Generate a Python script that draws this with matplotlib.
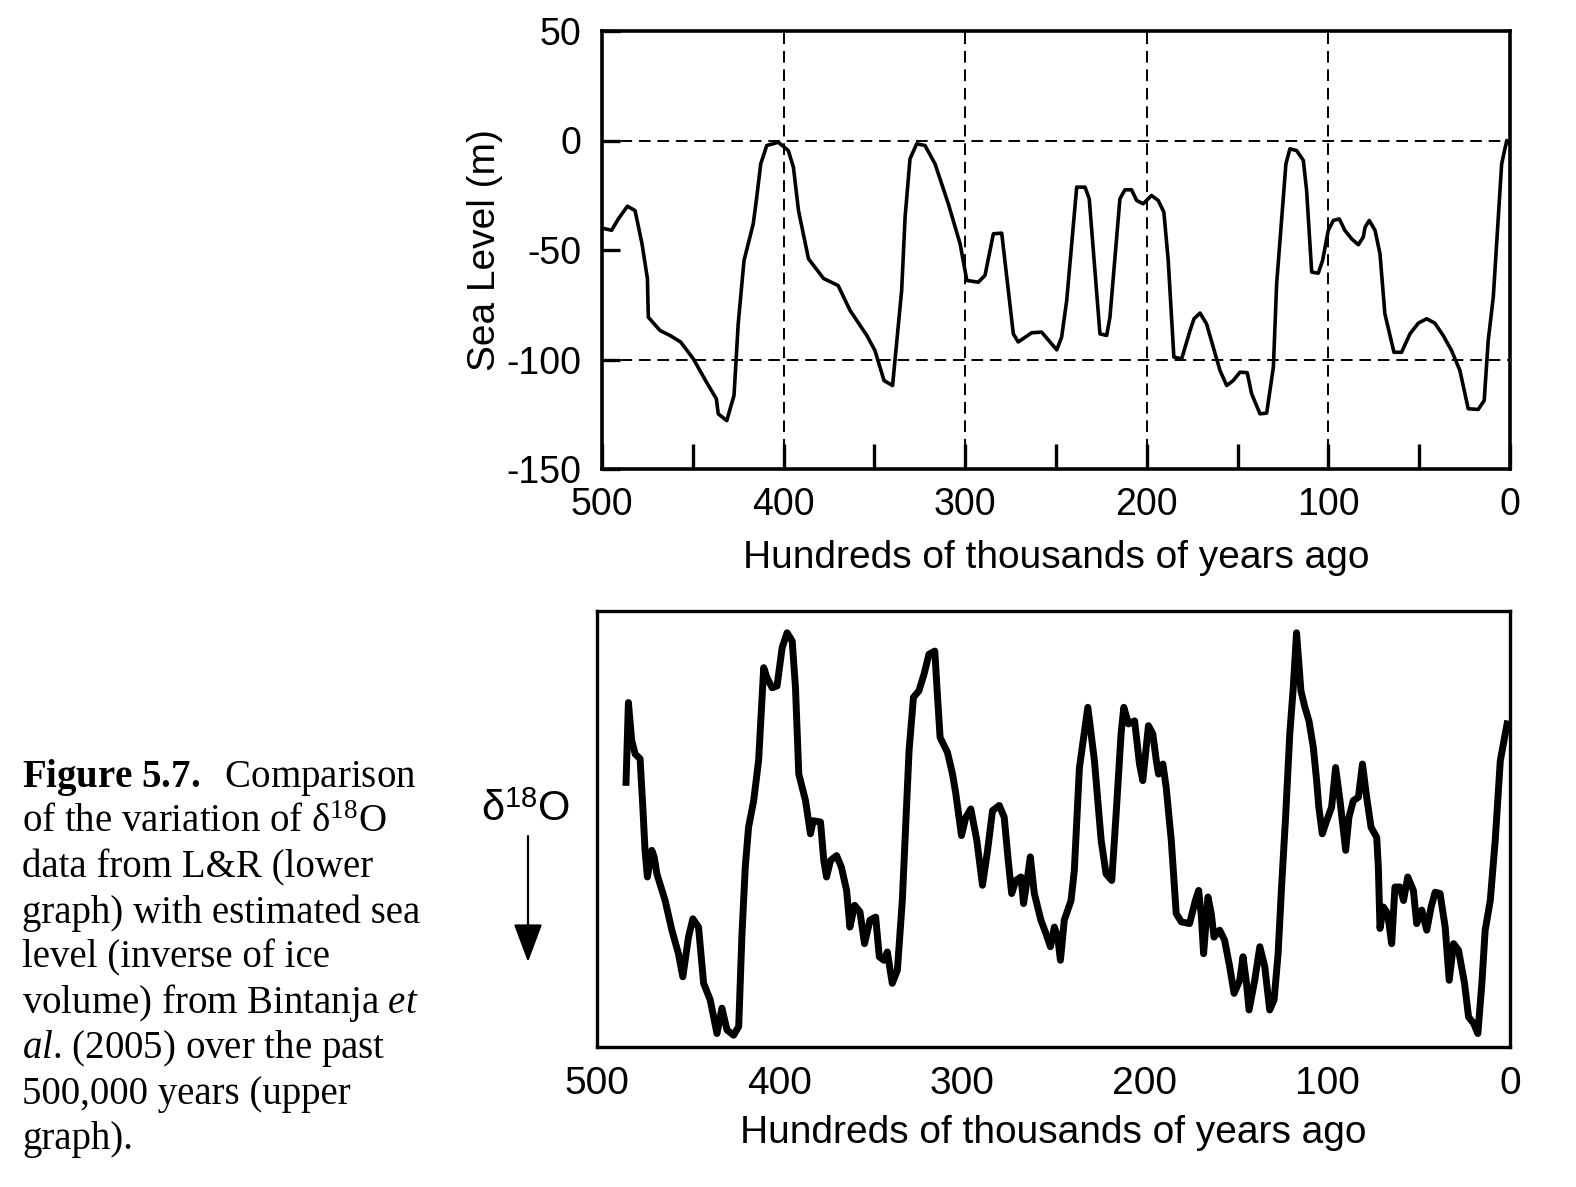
import numpy as np
import matplotlib.pyplot as plt

# Sea level (Bintanja et al. 2005)
sea_age = [500.0, 494.7, 491.0, 486.0, 481.8, 478.0, 475.0, 474.5, 468.0, 462.6,
           456.7, 449.7, 443.0, 437.0, 436.0, 431.3, 427.3, 425.0, 421.8, 416.7,
           414.8, 412.6, 409.3, 402.9, 397.4, 394.6, 391.8, 386.3, 378.0, 370.0,
           363.4, 354.2, 349.7, 344.7, 340.0, 335.0, 333.1, 330.4, 326.7, 322.1,
           316.6, 309.3, 302.8, 299.1, 292.8, 289.1, 284.5, 279.9, 273.5, 270.8,
           263.4, 257.9, 253.3, 249.6, 246.9, 244.1, 238.6, 234.0, 231.7, 225.8,
           222.1, 220.3, 214.8, 212.0, 208.4, 205.6, 202.0, 197.4, 193.7, 190.6,
           188.2, 185.1, 180.8, 176.2, 174.0, 170.7, 167.1, 163.4, 159.7, 156.0,
           152.4, 148.7, 144.7, 142.3, 137.7, 134.0, 130.3, 128.5, 125.8, 123.4,
           121.2, 117.5, 113.8, 112.0, 109.2, 105.6, 103.2, 100.1, 97.3, 94.0,
           90.9, 87.2, 83.5, 80.8, 79.8, 77.5, 74.3, 71.6, 68.9, 63.9,
           59.7, 55.1, 50.5, 45.9, 41.4, 36.8, 32.2, 27.6, 23.0, 17.5,
           14.2, 12.0, 9.2, 4.6, 1.8, 0.0]
sea_level = [-40.0, -41.0, -35.8, -30.0, -32.0, -47.0, -63.0, -80.7, -86.8, -89.0,
             -92.0, -99.7, -109.6, -118.0, -124.8, -127.9, -116.4, -83.7, -54.8, -38.0,
             -25.9, -10.7, -2.3, -0.8, -4.6, -12.2, -32.0, -54.0, -63.0, -66.2,
             -77.6, -89.0, -95.9, -109.6, -111.9, -68.5, -35.0, -8.4, -1.5, -2.3,
             -10.7, -28.9, -47.2, -63.9, -64.7, -61.6, -42.6, -42.3, -88.3, -92.0,
             -87.8, -87.5, -92.0, -95.6, -89.8, -73.0, -21.3, -21.3, -26.6, -88.3,
             -89.0, -80.7, -26.6, -22.5, -22.5, -27.4, -28.9, -25.1, -27.4, -32.7,
             -54.8, -98.9, -99.7, -86.8, -81.4, -78.8, -83.7, -94.4, -105.0, -111.9,
             -109.6, -105.8, -106.0, -115.6, -124.8, -124.5, -103.5, -65.4, -36.5, -10.7,
             -3.8, -4.6, -9.1, -22.8, -60.1, -60.6, -54.8, -41.1, -36.5, -35.8,
             -41.1, -44.9, -47.6, -44.1, -39.6, -36.5, -41.1, -51.7, -79.1, -96.7,
             -96.7, -88.3, -83.4, -81.4, -83.4, -89.0, -95.9, -105.0, -122.5, -122.8,
             -118.7, -91.3, -71.5, -10.7, 0.0, -2.0]

# d18O (L&R stack), relative units (0 = bottom of frame, 100 = top)
d18o_age = [484.1, 482.8, 481.0, 479.1, 476.4, 474.9, 473.7, 472.4, 470.0, 468.7,
            467.2, 462.7, 459.0, 455.4, 453.0, 449.9, 447.5, 444.4, 441.6, 438.0,
            434.3, 431.6, 428.8, 425.2, 422.4, 420.6, 418.8, 417.0, 414.2, 411.5,
            408.7, 406.9, 404.1, 401.4, 398.6, 395.9, 393.1, 391.3, 389.5, 385.8,
            383.1, 381.6, 377.6, 375.8, 374.3, 372.1, 368.8, 366.2, 363.3, 361.5,
            358.9, 356.0, 353.5, 350.5, 347.4, 345.4, 342.9, 341.0, 338.3, 335.5,
            332.8, 331.0, 329.1, 326.7, 323.7, 320.9, 318.2, 315.0, 313.6, 312.1,
            308.1, 305.3, 303.5, 300.4, 298.0, 295.3, 292.0, 288.9, 286.1, 283.4,
            279.7, 277.0, 274.8, 272.9, 270.6, 267.8, 266.4, 264.2, 262.7, 260.5,
            256.9, 254.1, 251.7, 249.5, 247.7, 246.2, 244.1, 240.4, 238.6, 235.8,
            231.2, 227.6, 223.9, 221.2, 218.1, 215.7, 213.0, 211.5, 208.9, 205.6,
            202.9, 201.1, 199.2, 198.0, 195.6, 193.7, 192.5, 190.1, 188.3, 185.5,
            182.8, 180.0, 175.5, 172.3, 170.5, 169.0, 167.8, 165.4, 163.6, 162.1,
            159.0, 156.3, 153.5, 151.1, 148.0, 146.2, 144.3, 142.9, 139.8, 137.0,
            134.3, 131.6, 129.2, 127.0, 125.1, 122.9, 120.6, 118.7, 116.9, 114.5,
            112.3, 110.1, 107.7, 105.9, 104.7, 102.8, 100.4, 97.7, 95.5, 93.1,
            90.0, 88.2, 85.8, 83.0, 80.8, 78.5, 76.1, 73.0, 72.1, 71.2,
            69.3, 67.0, 64.8, 63.0, 60.2, 58.3, 56.0, 52.9, 51.1, 48.3,
            45.6, 43.2, 41.0, 38.3, 35.5, 33.3, 30.9, 28.2, 24.9, 22.7,
            19.9, 17.6, 15.4, 13.6, 10.8, 8.1, 5.3, 1.6]
d18o_rel = [60.7, 79.0, 70.3, 67.2, 66.1, 55.0, 45.1, 39.0, 45.1, 43.6,
            39.7, 33.6, 26.8, 21.4, 16.1, 25.2, 29.4, 27.5, 14.6, 10.8,
            3.1, 8.9, 3.9, 2.7, 4.7, 26.0, 41.3, 50.4, 56.5, 65.7,
            87.0, 84.7, 82.4, 82.8, 91.6, 95.0, 93.1, 82.4, 62.6, 56.5,
            48.9, 51.9, 51.6, 42.8, 39.0, 42.8, 43.9, 41.3, 35.9, 27.5,
            32.5, 31.0, 23.7, 29.1, 29.8, 20.7, 19.9, 21.8, 14.6, 17.6,
            33.6, 50.4, 68.0, 80.2, 81.7, 85.5, 90.1, 90.8, 80.9, 71.0,
            67.6, 62.6, 58.1, 48.5, 52.7, 54.6, 47.4, 37.1, 45.1, 54.2,
            55.4, 52.7, 42.8, 35.2, 38.2, 39.0, 32.9, 39.0, 43.6, 35.2,
            29.1, 26.0, 23.0, 27.5, 25.2, 19.9, 29.1, 33.6, 40.5, 64.1,
            77.9, 65.7, 47.4, 39.7, 38.2, 53.5, 71.8, 77.9, 74.1, 74.8,
            64.9, 61.1, 68.7, 73.7, 71.8, 65.7, 62.6, 64.9, 59.6, 47.4,
            30.6, 28.7, 28.3, 33.6, 35.9, 29.8, 21.4, 34.4, 30.6, 25.2,
            26.8, 24.5, 18.4, 12.3, 15.3, 20.7, 14.6, 8.5, 15.3, 23.0,
            18.4, 8.5, 10.8, 21.4, 36.7, 52.7, 71.8, 82.4, 95.0, 81.7,
            77.9, 74.8, 68.7, 61.1, 55.0, 48.9, 51.9, 55.0, 64.1, 56.5,
            45.1, 52.7, 56.5, 57.3, 64.9, 57.3, 50.4, 48.1, 41.3, 27.2,
            32.1, 30.6, 23.7, 36.7, 36.7, 33.6, 39.0, 35.9, 28.3, 31.4,
            26.8, 32.1, 35.5, 35.2, 27.5, 15.3, 23.7, 22.2, 14.6, 6.9,
            5.4, 3.1, 14.6, 26.8, 33.6, 47.4, 65.7, 74.1]

age_ticks = [500, 400, 300, 200, 100, 0]
age_minor = [450, 350, 250, 150, 50]
level_ticks = [-150, -100, -50, 0, 50]
level_labels = ['-150', '-100', '-50', '0', '50']
grid_ages = [400, 300, 200, 100]
grid_levels = [0, -100]

caption = [r"$\mathbf{Figure\ 5.7.}$  Comparison",
           r"of the variation of δ$^{18}$O",
           "data from L&R (lower",
           "graph) with estimated sea",
           "level (inverse of ice",
           r"volume) from Bintanja $\mathit{et}$",
           r"$\mathit{al}$. (2005) over the past",
           "500,000 years (upper",
           "graph)."]

plt.rcParams['font.family'] = ['Liberation Sans', 'DejaVu Sans']
plt.rcParams['mathtext.fontset'] = 'custom'
plt.rcParams['mathtext.rm'] = 'Liberation Serif'
plt.rcParams['mathtext.it'] = 'Liberation Serif:italic'
plt.rcParams['mathtext.bf'] = 'Liberation Serif:bold'
plt.rcParams['mathtext.sf'] = 'Liberation Sans'

W, H = 1576, 1187
fig = plt.figure(figsize=(W / 100, H / 100), dpi=100)

# upper graph: sea level
ax1 = fig.add_axes([602 / W, 1 - 469 / H, 908 / W, 438 / H])
for a in grid_ages:
    ax1.axvline(a, color='black', lw=1.4, ls=(0, (6, 3.5)), zorder=1)
for lv in grid_levels:
    ax1.axhline(lv, color='black', lw=1.4, ls=(0, (6, 3.5)), zorder=1)
ax1.plot(sea_age, sea_level, color='black', lw=2.6, zorder=3)
ax1.set_xlim(500, 0)
ax1.set_ylim(-150, 50)
ax1.set_xticks(age_ticks)
ax1.set_xticklabels([str(t) for t in age_ticks])
ax1.set_xticks(age_minor, minor=True)
ax1.set_yticks(level_ticks)
ax1.set_yticklabels(level_labels)
ax1.tick_params(axis='x', which='both', direction='in', length=18, width=2.4,
                labelsize=27, pad=13, top=False)
ax1.tick_params(axis='y', direction='in', length=13, width=2.4,
                labelsize=27, pad=15, right=False)
for s in ax1.spines.values():
    s.set_linewidth(2.6)
ax1.set_xlabel("Hundreds of thousands of years ago", fontsize=28, labelpad=12)
ax1.set_ylabel("Sea Level (m)", fontsize=28, labelpad=2)

# lower graph: d18O
ax2 = fig.add_axes([597 / W, 1 - 1047 / H, 913 / W, 436 / H])
ax2.plot(d18o_age, d18o_rel, color='black', lw=5, solid_joinstyle='round')
ax2.set_xlim(500, 0)
ax2.set_ylim(0, 100)
ax2.set_yticks([])
ax2.set_xticks(age_ticks)
ax2.set_xticklabels([str(t) for t in age_ticks])
ax2.tick_params(axis='x', length=0, pad=14, labelsize=28)
for s in ax2.spines.values():
    s.set_linewidth(2.4)
ax2.set_xlabel("Hundreds of thousands of years ago", fontsize=28, labelpad=9)

fig.text(526 / W, 1 - 810 / H, r"δ$^{\mathsf{18}}$O", fontsize=30,
         ha='center', va='center')
fig.add_artist(plt.Annotation("", xy=(528 / W, 1 - 962 / H), xycoords='figure fraction',
                              xytext=(528 / W, 1 - 836 / H), textcoords='figure fraction',
                              arrowprops=dict(arrowstyle='-|>,head_length=2.4,head_width=0.9',
                                              color='black', lw=1.6, shrinkA=0, shrinkB=0)))

# caption
for i, line in enumerate(caption):
    fig.text(22 / W, 1 - (777 + i * 45.3) / H, line, fontsize=28,
             family='Liberation Serif', ha='left', va='center')

fig.savefig('out.png', dpi=100)
